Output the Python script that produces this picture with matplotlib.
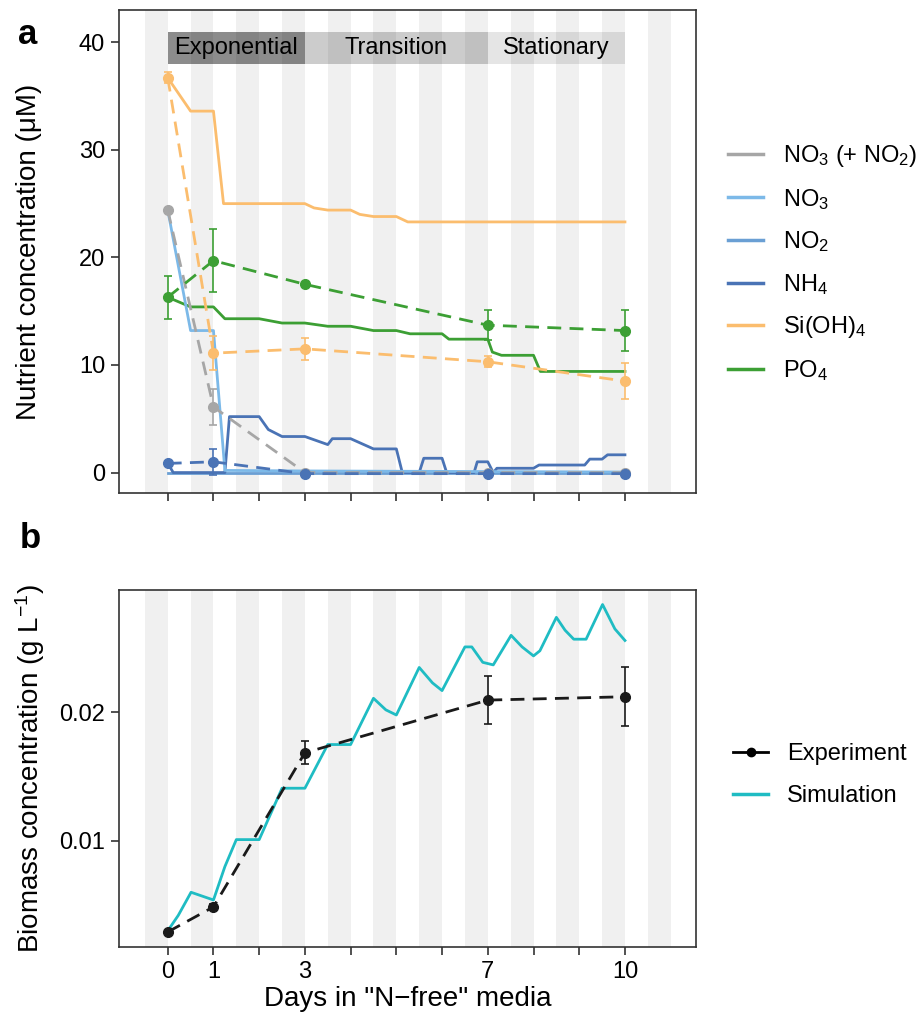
import matplotlib
matplotlib.use('Agg')
import matplotlib.pyplot as plt
from matplotlib.lines import Line2D
import numpy as np

plt.rcParams['font.family'] = ['Liberation Sans', 'DejaVu Sans']
plt.rcParams['mathtext.fontset'] = 'custom'
plt.rcParams['mathtext.rm'] = 'Liberation Sans'
plt.rcParams['mathtext.it'] = 'Liberation Sans:italic'
plt.rcParams['mathtext.bf'] = 'Liberation Sans:bold'

# sampling days (experiment)
days = [0, 1, 3, 7, 10]

# nutrients, experiment (uM)
si_exp = [36.7, 11.1, 11.5, 10.3, 8.5]
si_err = [0.5, 1.6, 1.0, 0.5, 1.7]
po4_exp = [16.3, 19.7, 17.5, 13.7, 13.2]
po4_err = [2.0, 2.9, 0.2, 1.4, 1.9]
nox_exp = [24.4, 6.1, 0.0, 0.0, 0.0]
nox_err = [0.2, 1.7, 0.0, 0.0, 0.0]
nh4_exp = [0.85, 1.0, -0.1, -0.1, -0.1]
nh4_err = [0.2, 1.2, 0.1, 0.1, 0.1]

# nutrients, simulation
si_t = [0, 0.5, 1.0, 1.22, 3.0, 3.2, 3.5, 4.0, 4.2, 4.5, 5.0, 5.25, 10]
si_sim = [36.7, 33.6, 33.6, 25.0, 25.0, 24.6, 24.4, 24.4, 24.0, 23.8, 23.8, 23.3, 23.3]
po4_t = [0, 0.5, 1.0, 1.25, 2.0, 2.5, 3.0, 3.5, 4.0, 4.5, 5.0, 5.3, 6.0, 6.15, 7.0, 7.1, 7.3, 8.0, 8.15, 10]
po4_sim = [16.3, 15.4, 15.4, 14.3, 14.3, 13.9, 13.9, 13.6, 13.6, 13.2, 13.2, 12.9, 12.9, 12.4, 12.4, 11.2, 10.9, 10.9, 9.4, 9.4]
no3_t = [0, 0.5, 1.0, 1.25, 3.0, 10]
no3_sim = [24.4, 13.2, 13.2, 0.2, 0.15, 0.05]
no2_t = [0, 10]
no2_sim = [0.0, 0.0]
nh4_t = [0, 0.12, 1.25, 1.35, 2.0, 2.2, 2.5, 3.0, 3.5, 3.6, 4.0, 4.5, 5.0, 5.13, 5.5, 5.6,
         6.0, 6.1, 6.7, 6.77, 7.0, 7.12, 7.2, 8.0, 8.12, 9.12, 9.23, 9.5, 9.62, 10]
nh4_sim = [0.87, 0, 0, 5.2, 5.2, 4.0, 3.35, 3.35, 2.6, 3.15, 3.15, 2.2, 2.2, 0, 0, 1.33,
           1.33, 0, 0, 1.0, 1.0, 0, 0.4, 0.4, 0.7, 0.7, 1.25, 1.25, 1.65, 1.65]

# biomass (g/L)
bio_exp = [0.00291, 0.00486, 0.01686, 0.02096, 0.02122]
bio_err = [0.0001, 0.0002, 0.0009, 0.00186, 0.0023]
bio_t = [0, 0.23, 0.51, 1.0, 1.25, 1.5, 2.0, 2.5, 3.0, 3.5, 4.0, 4.5, 4.77, 5.0, 5.5, 5.79,
         6.0, 6.5, 6.65, 6.89, 7.12, 7.51, 7.75, 8.0, 8.14, 8.5, 8.69, 8.88, 9.15, 9.51, 9.78, 10.0]
bio_sim = [0.0030, 0.0042, 0.0060, 0.0054, 0.0080, 0.0101, 0.0101, 0.0141, 0.0141, 0.0175,
           0.0175, 0.0211, 0.0202, 0.0198, 0.0235, 0.0223, 0.0217, 0.0251, 0.0251, 0.0239,
           0.0237, 0.0260, 0.0251, 0.0244, 0.0248, 0.0274, 0.0264, 0.0257, 0.0257, 0.0284,
           0.0265, 0.0256]

phases = ['Exponential', 'Transition', 'Stationary']
phase_bounds = [(0, 3), (3, 7), (7, 10)]
phase_alpha = [0.45, 0.2, 0.1]

xtick_labels = ['0', '1', '', '3', '', '', '', '7', '', '', '10']

c_nox = '#a6a6a6'
c_no3 = '#7cb9e8'
c_no2 = '#6a9fd4'
c_nh4 = '#4a73b5'
c_si = '#fbbd6e'
c_po4 = '#3c9f34'
c_bio = '#1fbcc3'

W, H = 918, 1014
fig = plt.figure(figsize=(W / 100, H / 100), dpi=100)
ax1 = fig.add_axes([119 / W, 1 - 493 / H, 577 / W, 483 / H])
ax2 = fig.add_axes([119 / W, 1 - 947 / H, 577 / W, 357 / H])

for ax in (ax1, ax2):
    # night-time shading
    for k in range(12):
        ax.axvspan(k - 0.5, k, color='#f0f0f0', lw=0, zorder=0)
    ax.set_xlim(-1.066, 11.554)
    ax.set_xticks(range(11))
    for s in ax.spines.values():
        s.set_linewidth(1.2)
        s.set_color('#333333')
    ax.tick_params(direction='out', length=6, width=1.2, color='#333333',
                   labelsize=17, pad=4)

# panel a
for (x0, x1), name, a in zip(phase_bounds, phases, phase_alpha):
    ax1.fill_between([x0, x1], 38, 41, color='black', alpha=a, lw=0, zorder=1)
    ax1.text((x0 + x1) / 2, 39.5, name, ha='center', va='center', fontsize=17, zorder=2)

lw = 2.0
ax1.plot(si_t, si_sim, color=c_si, lw=lw, zorder=3)
ax1.plot(po4_t, po4_sim, color=c_po4, lw=lw, zorder=3)
ax1.plot(no2_t, no2_sim, color=c_no2, lw=lw, zorder=3)
ax1.plot(nh4_t, nh4_sim, color=c_nh4, lw=lw, zorder=3)
ax1.plot(no3_t, no3_sim, color=c_no3, lw=lw, zorder=3)

for y, e, c in [(nox_exp, nox_err, c_nox), (nh4_exp, nh4_err, c_nh4),
                (si_exp, si_err, c_si), (po4_exp, po4_err, c_po4)]:
    ax1.errorbar(days, y, yerr=e, color=c, lw=lw, ls=(0, (5, 3)), marker='o', ms=7,
                 elinewidth=1.2, capsize=3, capthick=1.2, zorder=4)

ax1.set_ylim(-1.9, 43)
ax1.set_yticks([0, 10, 20, 30, 40])
ax1.set_xticklabels([])
ax1.set_ylabel('Nutrient concentration (μM)', fontsize=20)
ax1.yaxis.set_label_coords(-0.133, 0.5)

handles1 = [Line2D([], [], color=c, lw=2.5) for c in (c_nox, c_no3, c_no2, c_nh4, c_si, c_po4)]
labels1 = ['NO$_3$ (+ NO$_2$)', 'NO$_3$', 'NO$_2$', 'NH$_4$', 'Si(OH)$_4$', 'PO$_4$']
fig.legend(handles1, labels1, loc='center left', bbox_to_anchor=(728 / W, 1 - 263 / H),
           frameon=False, fontsize=17, handlelength=1.5, labelspacing=0.75,
           handletextpad=0.85, borderpad=0, borderaxespad=0)

# panel b
ax2.plot(bio_t, bio_sim, color=c_bio, lw=lw, zorder=3)
ax2.errorbar(days, bio_exp, yerr=bio_err, color='#1a1a1a', lw=lw, ls=(0, (5, 3)),
             marker='o', ms=7, elinewidth=1.2, capsize=3, capthick=1.2, zorder=4)
ax2.set_ylim(0.00174, 0.02953)
ax2.set_yticks([0.01, 0.02])
ax2.set_yticklabels(['0.01', '0.02'])
ax2.set_xticklabels(xtick_labels)
ax2.set_xlabel('Days in "N\u2212free" media', fontsize=20, labelpad=2)
ax2.set_ylabel('Biomass concentration (g L$^{-1}$)', fontsize=20)
ax2.yaxis.set_label_coords(-0.124, 0.5)

handles2 = [Line2D([], [], color='black', lw=2, marker='o', ms=6),
            Line2D([], [], color=c_bio, lw=2.5)]
fig.legend(handles2, ['Experiment', 'Simulation'], loc='center left',
           bbox_to_anchor=(733 / W, 1 - 775 / H), frameon=False, fontsize=17,
           handlelength=1.5, labelspacing=0.85, handletextpad=0.8,
           borderpad=0, borderaxespad=0)

fig.text(28 / W, 1 - 34 / H, 'a', fontsize=25, fontweight='bold', ha='center', va='center')
fig.text(30 / W, 1 - 538 / H, 'b', fontsize=25, fontweight='bold', ha='center', va='center')

fig.savefig('out.png', dpi=100)
